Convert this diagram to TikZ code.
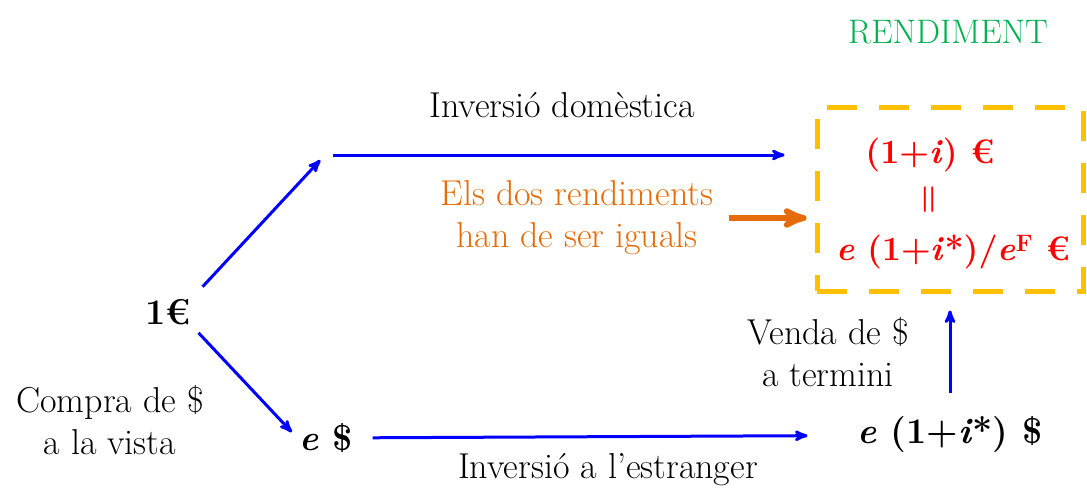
\documentclass[tikz,border=0pt]{standalone}
\usepackage{fontspec}
\usetikzlibrary{positioning}
\usetikzlibrary{arrows,shapes}
\usetikzlibrary{calc}
\definecolor{rendred}{RGB}{255,0,0}
\definecolor{rendgreen}{RGB}{0,176,80}
\definecolor{rendorange}{RGB}{228,108,10}
\definecolor{boxyellow}{RGB}{255,192,0}
\tikzstyle{plain}=[font=\fontsize{36}{42}\selectfont, align=center, inner sep=0pt]
\tikzstyle{amount}=[font=\fontsize{36}{42}\selectfont\bfseries, inner sep=2pt]
\tikzstyle{result}=[font=\fontsize{34}{40}\selectfont\bfseries, text=rendred, inner sep=0pt]
\tikzstyle{edge} = [draw, line width=3pt, blue, -stealth']
\tikzstyle{bigedge} = [draw, line width=6pt, rendorange, -stealth']
\tikzstyle{returnbox}=[draw=boxyellow, line width=5pt, dash pattern=on 30pt off 22pt, minimum width=266pt, minimum height=184pt]

\begin{document}
\begin{tikzpicture}[x=1pt, y=-1pt]
 \useasboundingbox (0,0) rectangle (1087,490);

    % The box with both returns
    \node[returnbox] (box) at (950,199) {};
    \node[font=\fontsize{34}{40}\selectfont, text=rendgreen] (title) at (948,32) {RENDIMENT};
    \node[result] (domret) at (930,155) {(1+\textit{i}) €};
    \node[result, rotate=90] (equal) at (931,200) {=};
    \node[result] (forret) at (953,252) {\textit{e} (1+\textit{i}*)/\textit{e}\textsuperscript{F} €};

    % Amounts at each step
    \node[amount] (one) at (168,312) {1€};
    \node[amount] (edollar) at (326,438) {\textit{e} \$};
    \node[amount] (efut) at (950,435) {\textit{e} (1+\textit{i}*) \$};
    \coordinate (dom) at (325,155);

    % Labels of the steps
    \foreach \pos/\name/\txt in {{(562,105)/domtxt/Inversió domèstica}, {(110,420)/spottxt/Compra de \$\\a la vista}, {(608,470)/fortxt/Inversió a l’estranger}, {(828,352)/fwdtxt/Venda de \$\\a termini}}
        \node[plain] (\name) at \pos {\txt};
    \node[plain, text=rendorange] (agree) at (577,218) {Els dos rendiments\\han de ser iguals};

    % Connect the steps
    \path[edge, shorten <=14pt, shorten >=7pt] (one.north east) -- (dom);
    \path[edge, shorten <=8pt, shorten >=30pt] (dom) -- (dom -| box.west);
    \path[edge, shorten <=8pt, shorten >=8pt] (one.south east) -- (edollar.west);
    \path[edge, shorten <=18pt, shorten >=48pt] (edollar) -- (efut);
    \path[edge, shorten <=22pt, shorten >=17pt] (efut.north -| box.south) -- (box.south);
    \path[bigedge, shorten <=15pt, shorten >=8pt] (agree.east) -- (agree.east -| box.west);

\end{tikzpicture}
\end{document}
